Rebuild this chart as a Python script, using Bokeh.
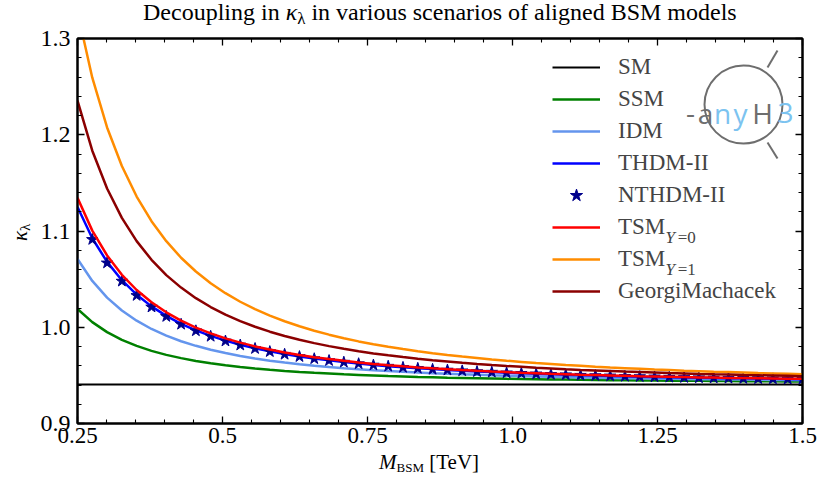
import math
from bokeh.plotting import figure
from bokeh.models import (Range1d, FixedTicker, NumeralTickFormatter, LinearAxis,
                          Legend, LegendItem, Label, CustomJSTickFormatter, Div)
from bokeh.layouts import column, row
from bokeh.embed import file_html
from bokeh.resources import INLINE

# ---------------- data ----------------
mass = [0.25, 0.2755, 0.3010, 0.3265, 0.3520, 0.3776, 0.4031, 0.4286, 0.4541, 0.4796,
        0.5051, 0.5306, 0.5561, 0.5816, 0.6071, 0.6327, 0.6582, 0.6837, 0.7092, 0.7347,
        0.7602, 0.7857, 0.8112, 0.8367, 0.8622, 0.8878, 0.9133, 0.9388, 0.9643, 0.9898,
        1.0153, 1.0408, 1.0663, 1.0918, 1.1173, 1.1429, 1.1684, 1.1939, 1.2194, 1.2449,
        1.2704, 1.2959, 1.3214, 1.3469, 1.3724, 1.3980, 1.4235, 1.4490, 1.4745, 1.5]

sm_mass = [0.25, 1.5]
sm_kappa = [0.9405, 0.9405]

ssm = [1.0189, 1.0053, 0.9949, 0.9869, 0.9806, 0.9755, 0.9713, 0.9679, 0.9650, 0.9625,
       0.9605, 0.9587, 0.9572, 0.9558, 0.9546, 0.9536, 0.9527, 0.9519, 0.9511, 0.9505,
       0.9499, 0.9493, 0.9489, 0.9484, 0.9480, 0.9476, 0.9473, 0.9470, 0.9467, 0.9464,
       0.9462, 0.9460, 0.9458, 0.9456, 0.9454, 0.9452, 0.9450, 0.9449, 0.9448, 0.9446,
       0.9445, 0.9444, 0.9443, 0.9442, 0.9441, 0.9440, 0.9439, 0.9438, 0.9437, 0.9437]

idm = [1.0710, 1.0481, 1.0308, 1.0174, 1.0068, 0.9982, 0.9913, 0.9855, 0.9807, 0.9766,
       0.9732, 0.9702, 0.9676, 0.9653, 0.9634, 0.9616, 0.9601, 0.9587, 0.9575, 0.9564,
       0.9554, 0.9545, 0.9537, 0.9530, 0.9523, 0.9517, 0.9511, 0.9506, 0.9501, 0.9497,
       0.9493, 0.9489, 0.9485, 0.9482, 0.9479, 0.9476, 0.9473, 0.9471, 0.9469, 0.9466,
       0.9464, 0.9462, 0.9460, 0.9459, 0.9457, 0.9456, 0.9454, 0.9453, 0.9451, 0.9450]

thdm = [1.1250, 1.0925, 1.0679, 1.0489, 1.0338, 1.0217, 1.0118, 1.0036, 0.9968, 0.9910,
        0.9861, 0.9818, 0.9782, 0.9750, 0.9722, 0.9697, 0.9675, 0.9656, 0.9639, 0.9623,
        0.9609, 0.9596, 0.9585, 0.9574, 0.9565, 0.9556, 0.9548, 0.9541, 0.9534, 0.9527,
        0.9522, 0.9516, 0.9511, 0.9507, 0.9502, 0.9498, 0.9494, 0.9491, 0.9487, 0.9484,
        0.9481, 0.9478, 0.9476, 0.9473, 0.9471, 0.9469, 0.9467, 0.9465, 0.9463, 0.9461]

nthdm_mass = mass[1:]
nthdm = [1.0912, 1.0668, 1.0479, 1.0330, 1.0210, 1.0112, 1.0031, 0.9963, 0.9906, 0.9857,
         0.9815, 0.9779, 0.9747, 0.9719, 0.9695, 0.9673, 0.9654, 0.9637, 0.9621, 0.9607,
         0.9595, 0.9583, 0.9573, 0.9563, 0.9555, 0.9547, 0.9539, 0.9533, 0.9526, 0.9521,
         0.9515, 0.9510, 0.9506, 0.9501, 0.9497, 0.9494, 0.9490, 0.9487, 0.9484, 0.9481,
         0.9478, 0.9475, 0.9473, 0.9471, 0.9468, 0.9466, 0.9464, 0.9462, 0.9461]

tsm0 = [1.1346, 1.1004, 1.0746, 1.0545, 1.0387, 1.0259, 1.0155, 1.0069, 0.9997, 0.9936,
        0.9884, 0.9840, 0.9801, 0.9768, 0.9738, 0.9712, 0.9689, 0.9669, 0.9651, 0.9634,
        0.9619, 0.9606, 0.9594, 0.9583, 0.9573, 0.9564, 0.9555, 0.9547, 0.9540, 0.9534,
        0.9527, 0.9522, 0.9516, 0.9512, 0.9507, 0.9503, 0.9499, 0.9495, 0.9491, 0.9488,
        0.9485, 0.9482, 0.9479, 0.9477, 0.9474, 0.9472, 0.9470, 0.9468, 0.9466, 0.9464]

tsm1 = [1.3277, 1.2593, 1.2076, 1.1675, 1.1358, 1.1102, 1.0894, 1.0722, 1.0579, 1.0457,
        1.0354, 1.0265, 1.0188, 1.0120, 1.0062, 1.0010, 0.9964, 0.9923, 0.9886, 0.9853,
        0.9824, 0.9797, 0.9773, 0.9751, 0.9731, 0.9712, 0.9695, 0.9680, 0.9665, 0.9652,
        0.9640, 0.9628, 0.9618, 0.9608, 0.9599, 0.9590, 0.9582, 0.9575, 0.9568, 0.9561,
        0.9555, 0.9549, 0.9544, 0.9538, 0.9534, 0.9529, 0.9524, 0.9520, 0.9516, 0.9512]

gm = [1.2354, 1.1834, 1.1441, 1.1136, 1.0895, 1.0701, 1.0542, 1.0412, 1.0302, 1.0210,
      1.0131, 1.0064, 1.0005, 0.9954, 0.9909, 0.9870, 0.9835, 0.9804, 0.9776, 0.9751,
      0.9728, 0.9708, 0.9690, 0.9673, 0.9657, 0.9644, 0.9631, 0.9619, 0.9608, 0.9598,
      0.9589, 0.9580, 0.9572, 0.9564, 0.9557, 0.9551, 0.9545, 0.9539, 0.9534, 0.9529,
      0.9524, 0.9520, 0.9515, 0.9511, 0.9508, 0.9504, 0.9501, 0.9498, 0.9495, 0.9492]

x_major = [0.25, 0.5, 0.75, 1.0, 1.25, 1.5]
x_minor = [0.3, 0.35, 0.4, 0.45, 0.55, 0.6, 0.65, 0.7, 0.8, 0.85, 0.9, 0.95,
           1.05, 1.1, 1.15, 1.2, 1.3, 1.35, 1.4, 1.45]
y_major = [0.9, 1.0, 1.1, 1.2, 1.3]
y_minor = [0.92, 0.94, 0.96, 0.98, 1.02, 1.04, 1.06, 1.08, 1.12, 1.14, 1.16, 1.18,
           1.22, 1.24, 1.26, 1.28]

title_pre = "Decoupling in "
title_post = " in various scenarios of aligned BSM models"

SERIF = "Liberation Serif"
FIG_TOP, FIG_BOTTOM, FIG_LEFT, FIG_RIGHT = 14, 30, 47, 20
FRAME_W, FRAME_H = 725, 385
TITLE_H, YLAB_W = 24, 30
FIG_H = FIG_TOP + FRAME_H + FIG_BOTTOM

# ---------------- figure ----------------
p = figure(frame_width=FRAME_W, frame_height=FRAME_H,
           x_range=Range1d(0.25, 1.5), y_range=Range1d(0.9, 1.3),
           output_backend="svg", toolbar_location=None,
           min_border_left=FIG_LEFT, min_border_right=FIG_RIGHT,
           min_border_top=FIG_TOP, min_border_bottom=FIG_BOTTOM)
p.title.visible = False
p.xgrid.visible = False
p.ygrid.visible = False
p.background_fill_color = "white"
p.border_fill_alpha = 0
p.outline_line_color = "black"
p.outline_line_width = 2


def style_axis(ax, ticks, minor, fmt, show):
    ax.ticker = FixedTicker(ticks=ticks, minor_ticks=minor)
    ax.major_tick_in = 7
    ax.major_tick_out = 0
    ax.minor_tick_in = 4
    ax.minor_tick_out = 0
    ax.axis_line_width = 2
    ax.major_tick_line_width = 1.3
    ax.minor_tick_line_width = 1.1
    ax.major_label_text_font = SERIF
    ax.major_label_text_color = "black"
    if show:
        ax.formatter = NumeralTickFormatter(format=fmt)
        ax.major_label_text_font_size = "24px"
    else:
        ax.formatter = CustomJSTickFormatter(code="return ''")
        ax.major_label_text_font_size = "1px"
        ax.major_label_standoff = 0


style_axis(p.xaxis[0], x_major, x_minor, "0.0[0]", True)
style_axis(p.yaxis[0], y_major, y_minor, "0.0", True)
p.xaxis[0].major_label_standoff = 4
p.xaxis[0].major_label_text_font_size = "23px"
p.yaxis[0].major_label_standoff = 7

top_ax = LinearAxis()
style_axis(top_ax, x_major, x_minor, "0.0[0]", False)
p.add_layout(top_ax, "above")
right_ax = LinearAxis()
style_axis(right_ax, y_major, y_minor, "0.0", False)
p.add_layout(right_ax, "right")

# ---------------- curves ----------------
LW = 2.5
r_sm = p.line(sm_mass, sm_kappa, line_color="black", line_width=1.8)
r_ssm = p.line(mass, ssm, line_color="#008000", line_width=LW)
r_idm = p.line(mass, idm, line_color="#6495ED", line_width=LW)
r_thdm = p.line(mass, thdm, line_color="#0000FF", line_width=LW)
r_nthdm = p.scatter(nthdm_mass, nthdm, marker="star", size=12,
                    fill_color="#00008B", line_color="#00008B")
r_tsm0 = p.line(mass, tsm0, line_color="#FF0000", line_width=LW)
r_tsm1 = p.line(mass, tsm1, line_color="#FF8C00", line_width=LW)
r_gm = p.line(mass, gm, line_color="#8B0000", line_width=LW)

legend = Legend(items=[
    LegendItem(label="SM", renderers=[r_sm]),
    LegendItem(label="SSM", renderers=[r_ssm]),
    LegendItem(label="IDM", renderers=[r_idm]),
    LegendItem(label="THDM-II", renderers=[r_thdm]),
    LegendItem(label="NTHDM-II", renderers=[r_nthdm]),
    LegendItem(label="TSM", renderers=[r_tsm0]),
    LegendItem(label="TSM", renderers=[r_tsm1]),
    LegendItem(label="GeorgiMachacek", renderers=[r_gm]),
], location=(475, 116), glyph_width=48, glyph_height=32, label_height=32,
    spacing=0, padding=0, margin=0, label_standoff=18,
    label_text_font=SERIF, label_text_font_size="23px",
    border_line_color=None, background_fill_alpha=0)
p.add_layout(legend)

# subscripts for the TSM legend entries
for ysub, sub in [(1.0937, "0"), (1.0605, "1")]:
    p.add_layout(Label(x=1.2640, y=ysub, text="Y", text_font=SERIF, text_font_style="italic",
                       text_font_size="17px", text_baseline="alphabetic"))
    p.add_layout(Label(x=1.2847, y=ysub, text="=" + sub, text_font=SERIF,
                       text_font_size="17px", text_baseline="alphabetic"))

# ---------------- anyH3 logo (decoration) ----------------
logo_x, logo_y = 1.3983, 1.2314
LOGO_GRAY = "#6e6e6e"
LOGO_BLUE = "#7cc3f0"
p.scatter([logo_x], [logo_y], marker="circle", size=78, fill_color=None,
          line_color=LOGO_GRAY, line_width=2)
p.segment(x0=[1.4397, 1.4397], y0=[1.2699, 1.1920], x1=[1.4569, 1.4569], y1=[1.2875, 1.1753],
          line_color=LOGO_GRAY, line_width=2)
for lx, ch, col in [(1.3069, "-", LOGO_GRAY), (1.3328, "a", LOGO_GRAY), (1.3621, "n", LOGO_BLUE),
                    (1.3931, "y", LOGO_BLUE), (1.4310, "H", LOGO_GRAY), (1.4707, "3", LOGO_BLUE)]:
    p.add_layout(Label(x=lx, y=1.2221, text=ch, text_color=col, text_font="Open Sans",
                       text_font_size="28px", text_align="center", text_baseline="alphabetic",
                       background_fill_alpha=0))

# ---------------- title and axis labels (HTML, with real sub-scripts) ----------------
FONT_CSS = "font-family:'Liberation Serif',serif;color:black;white-space:nowrap;"
SUB_CSS = "line-height:0;"

title_div = Div(
    text=(f'<div style="{FONT_CSS}font-size:24px;line-height:24px;padding-left:143px;">'
          f'{title_pre}<i>κ</i><sub style="{SUB_CSS}font-size:17px;vertical-align:-4px;">λ</sub>'
          f'{title_post}</div>'),
    width=YLAB_W + FIG_LEFT + FRAME_W + FIG_RIGHT, height=TITLE_H, margin=0)

ylab_div = Div(
    text=(f'<div style="position:relative;width:{YLAB_W}px;height:{FIG_H}px;">'
          f'<div style="position:absolute;left:10px;top:{241 - TITLE_H}px;transform:rotate(-90deg);'
          f'transform-origin:left top;{FONT_CSS}font-size:21px;line-height:21px;">'
          f'<i>κ</i><sub style="{SUB_CSS}font-size:15px;vertical-align:-3px;">λ</sub></div></div>'),
    width=YLAB_W, height=FIG_H, margin=0)

xlab_div = Div(
    text=(f'<div style="{FONT_CSS}font-size:21px;line-height:16px;padding-left:379px;padding-top:1px;">'
          f'<i>M</i><sub style="{SUB_CSS}font-size:13px;vertical-align:-3px;">BSM</sub>'
          f' [TeV]</div>'),
    width=YLAB_W + FIG_LEFT + FRAME_W + FIG_RIGHT, height=30, margin=0)

layout = column(title_div, row(ylab_div, p, spacing=0), xlab_div, spacing=0)

open("out.html", "w").write(file_html(layout, INLINE))
